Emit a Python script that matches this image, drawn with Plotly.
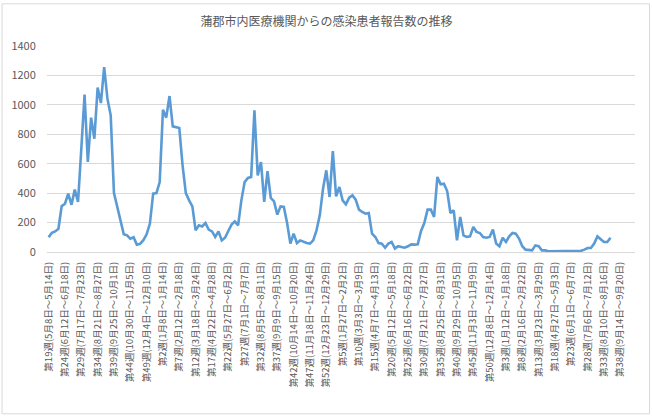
import plotly.graph_objects as go

title_text = "蒲郡市内医療機関からの感染患者報告数の推移"

reports = [
    100, 131, 140, 158, 312, 328, 396, 321, 424, 340,
    700, 1070, 612, 913, 770, 1117, 1012, 1257, 1042, 929,
    400, 305, 215, 120, 113, 90, 100, 50, 55, 80,
    120, 193, 396, 400, 475, 967, 913, 1060, 854, 850,
    843, 589, 400, 351, 310, 147, 181, 174, 197, 152,
    140, 102, 140, 79, 97, 143, 186, 208, 181, 351,
    475, 503, 510, 963, 521, 611, 340, 550, 367, 344,
    254, 310, 306, 197, 57, 125, 61, 79, 68, 61,
    57, 79, 147, 249, 430, 555, 374, 686, 378, 442,
    351, 324, 369, 385, 356, 288, 272, 260, 265, 125,
    102, 61, 57, 29, 57, 68, 23, 39, 34, 29,
    39, 52, 50, 52, 143, 197, 288, 288, 238, 510,
    460, 464, 414, 265, 283, 79, 238, 113, 102, 106,
    170, 136, 129, 102, 97, 102, 152, 57, 39, 97,
    68, 106, 129, 125, 91, 39, 16, 11, 11, 45,
    39, 11, 11, 5, 5, 3, 3, 3, 5, 5,
    5, 3, 5, 8, 16, 27, 27, 57, 106, 84,
    68, 68, 97,
]

n_categories = 180

week_tick_labels = [
    "第19週(5月8日～5月14日)", "第24週(6月12日～6月18日)", "第29週(7月17日～7月23日)",
    "第34週(8月21日～8月27日)", "第39週(9月25日～10月1日)", "第44週(10月30日～11月5日)",
    "第49週(12月4日～12月10日)",
    "第2週(1月8日～1月14日)", "第7週(2月12日～2月18日)", "第12週(3月18日～3月24日)",
    "第17週(4月22日～4月28日)", "第22週(5月27日～6月2日)", "第27週(7月1日～7月7日)",
    "第32週(8月5日～8月11日)", "第37週(9月9日～9月15日)", "第42週(10月14日～10月20日)",
    "第47週(11月18日～11月24日)", "第52週(12月23日～12月29日)",
    "第5週(1月27日～2月2日)", "第10週(3月3日～3月9日)", "第15週(4月7日～4月13日)",
    "第20週(5月12日～5月18日)", "第25週(6月16日～6月22日)", "第30週(7月21日～7月27日)",
    "第35週(8月25日～8月31日)", "第40週(9月29日～10月5日)", "第45週(11月3日～11月9日)",
    "第50週(12月8日～12月14日)",
    "第3週(1月12日～1月18日)", "第8週(2月16日～2月22日)", "第13週(3月23日～3月29日)",
    "第18週(4月27日～5月3日)", "第23週(6月1日～6月7日)", "第28週(7月6日～7月12日)",
    "第33週(8月10日～8月16日)", "第38週(9月14日～9月20日)",
]
tick_step = 5

W, H = 652, 418
ML, MR, MT, MB = 47.4, 17, 45.7, 166.3
FONT = "Noto Sans CJK JP, Noto Sans, sans-serif"
GRAY = "#595959"

fig = go.Figure()
fig.add_trace(go.Scatter(
    x=list(range(len(reports))),
    y=reports,
    mode="lines",
    line=dict(color="#5B9BD5", width=2.6),
    hoverinfo="y",
))

pw = W - ML - MR
ph = H - MT - MB
def px_x(p):
    return (p - ML) / pw
def px_y(p):
    return (H - MB - p) / ph

fig.update_layout(
    width=W, height=H,
    margin=dict(l=ML, r=MR, t=MT, b=MB, autoexpand=False),
    paper_bgcolor="white", plot_bgcolor="white",
    showlegend=False,
    font=dict(family=FONT, color=GRAY),
    title=dict(text=title_text, x=326.5 / W, xref="container", xanchor="center",
               y=1 - 22 / H, yref="container", yanchor="middle",
               font=dict(size=12, color=GRAY, family=FONT)),
    xaxis=dict(
        range=[-0.5, n_categories - 0.5],
        tickmode="array",
        tickvals=[i * tick_step for i in range(len(week_tick_labels))],
        ticktext=week_tick_labels,
        tickangle=-90,
        tickfont=dict(size=9.5, color=GRAY, family=FONT),
        showgrid=False, zeroline=False,
        showline=True, linecolor="#D9D9D9", linewidth=1,
        ticks="outside", ticklen=5, tickcolor="rgba(0,0,0,0)",
        automargin=False,
    ),
    yaxis=dict(
        range=[0, 1400], dtick=200, tick0=0,
        tickfont=dict(size=11, color=GRAY, family=FONT),
        showgrid=True, gridcolor="#D9D9D9", gridwidth=1,
        zeroline=False, showline=False,
        ticks="outside", ticklen=8, tickcolor="rgba(0,0,0,0)",
        automargin=False,
    ),
    shapes=[dict(type="rect", xref="paper", yref="paper",
                 x0=px_x(2.5), x1=px_x(649.5), y0=px_y(413.5), y1=px_y(3.5),
                 line=dict(color="#D9D9D9", width=1), fillcolor="rgba(0,0,0,0)",
                 layer="below")],
)

fig.write_html(
    "out.html",
    config={"displayModeBar": False},
    post_script="document.body.style.margin='0';document.body.style.overflow='hidden';",
)
